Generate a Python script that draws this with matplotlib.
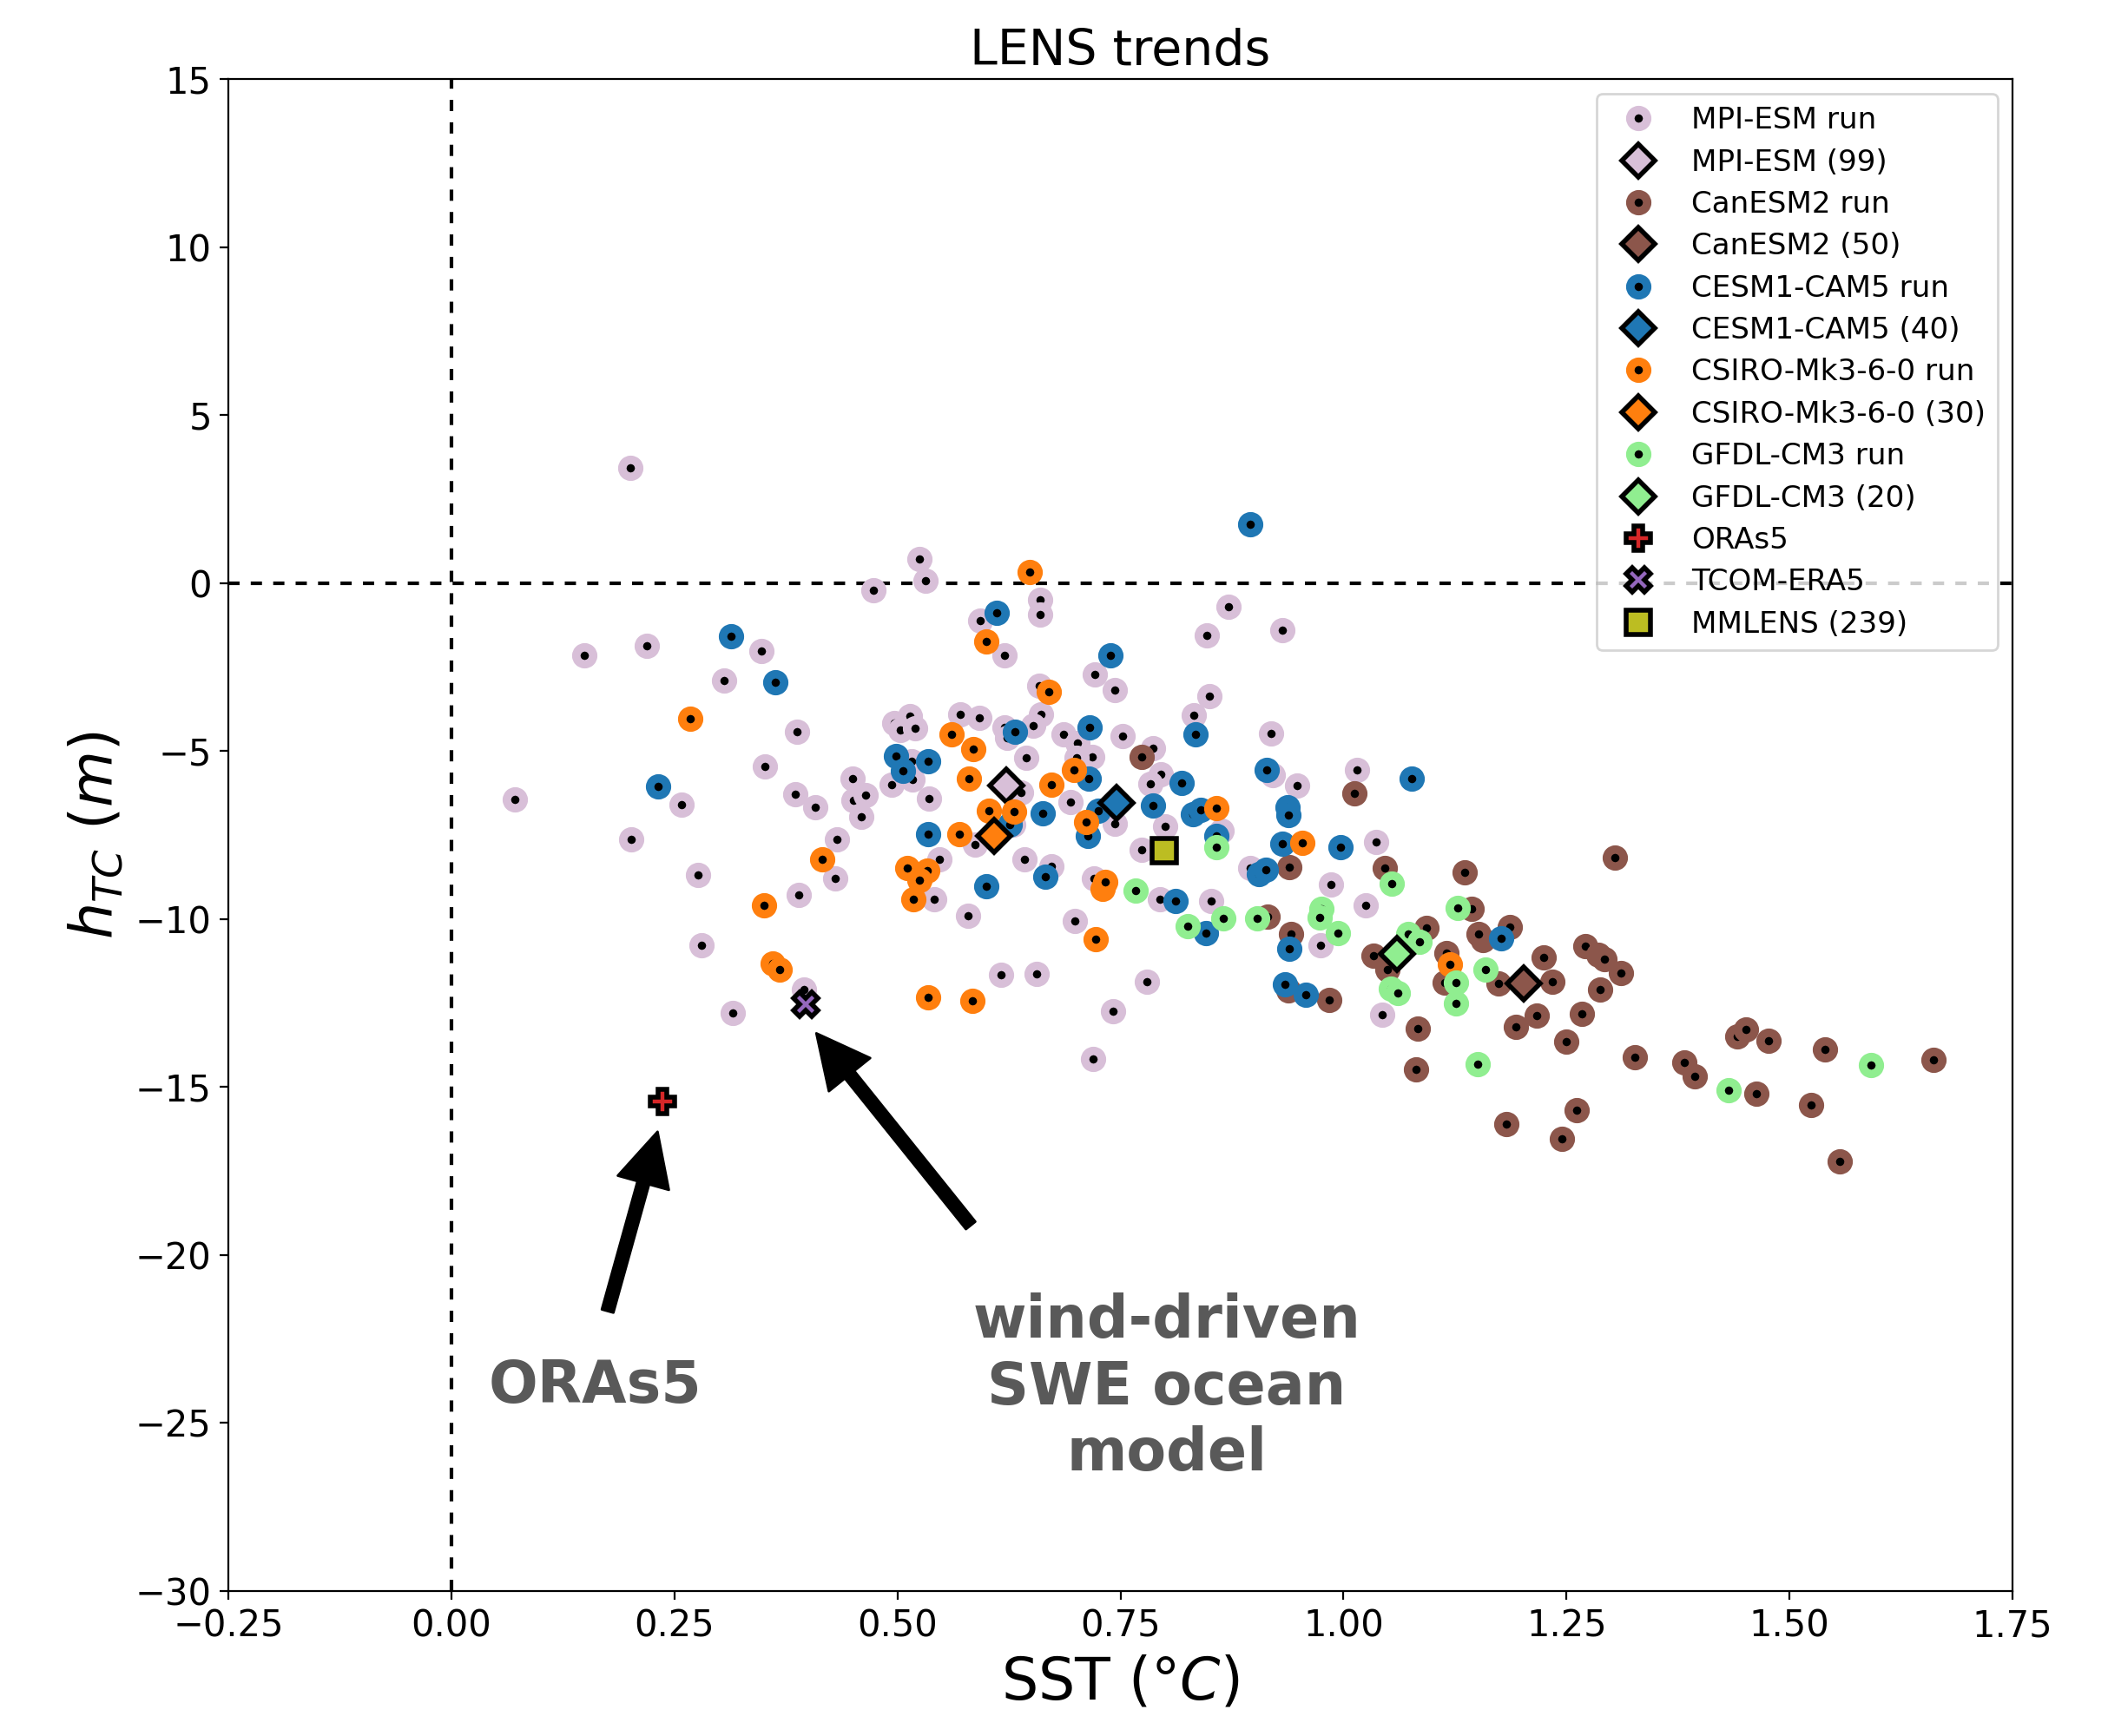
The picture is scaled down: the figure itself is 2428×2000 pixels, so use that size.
import numpy as np
import matplotlib
matplotlib.use("Agg")
import matplotlib.pyplot as plt

# ensemble member trends (SST in degC, h_TC in m)
mpi_sst = [0.200, 0.149, 0.219, 0.347, 0.306, 0.387, 0.351, 0.071, 0.258, 0.385,
           0.408, 0.450, 0.451, 0.459, 0.201, 0.432, 0.430, 0.276, 0.389, 0.280,
           0.395, 0.315, 0.473, 0.525, 0.531, 0.660, 0.660, 0.593, 0.620, 0.871,
           0.847, 0.721, 0.744, 0.659, 0.850, 0.832, 0.661, 0.652, 0.570, 0.592,
           0.514, 0.496, 0.503, 0.520, 0.620, 0.623, 0.516, 0.517, 0.493, 0.464,
           0.535, 0.644, 0.686, 0.702, 0.718, 0.701, 0.752, 0.786, 0.795, 0.783,
           0.638, 0.694, 0.744, 0.800, 0.774, 0.587, 0.547, 0.642, 0.673, 0.541,
           0.579, 0.720, 0.794, 0.852, 0.699, 0.616, 0.656, 0.780, 0.742, 0.719,
           0.931, 0.919, 0.921, 0.948, 1.015, 0.863, 1.037, 0.895, 0.986, 1.025,
           0.974, 1.043, 0.630]
mpi_h = [3.43, -2.15, -1.87, -2.03, -2.90, -4.43, -5.46, -6.45, -6.60, -6.27,
         -6.66, -5.82, -6.47, -6.96, -7.63, -7.63, -8.78, -8.69, -9.28, -10.78,
         -12.09, -12.80, -0.22, 0.72, 0.07, -0.49, -0.94, -1.12, -2.15, -0.69,
         -1.55, -2.71, -3.19, -3.04, -3.36, -3.94, -3.91, -4.24, -3.91, -4.00,
         -3.95, -4.17, -4.38, -4.31, -4.30, -4.60, -5.29, -5.85, -5.99, -6.32,
         -6.41, -5.20, -4.51, -4.75, -5.18, -5.20, -4.55, -4.91, -5.68, -5.98,
         -6.23, -6.51, -7.16, -7.25, -7.94, -7.77, -8.22, -8.22, -8.43, -9.40,
         -9.89, -8.78, -9.40, -9.45, -10.06, -11.65, -11.64, -11.87, -12.74, -14.16,
         -1.39, -4.48, -5.72, -6.02, -5.55, -7.38, -7.70, -8.47, -8.98, -9.58,
         -10.78, -12.85, -7.20]

can_sst = [0.774, 1.012, 0.939, 1.046, 1.136, 0.915, 0.941, 0.938, 0.984, 1.144,
           1.093, 1.034, 1.049, 1.115, 1.113, 1.083, 1.081, 1.156, 1.151, 1.186,
           1.174, 1.224, 1.234, 1.217, 1.193, 1.250, 1.267, 1.271, 1.183, 1.261,
           1.245, 1.304, 1.286, 1.293, 1.311, 1.288, 1.327, 1.382, 1.394, 1.463,
           1.441, 1.451, 1.476, 1.540, 1.524, 1.556, 1.661]
can_h = [-5.17, -6.26, -8.46, -8.47, -8.62, -9.92, -10.45, -12.13, -12.41, -9.70,
         -10.26, -11.10, -11.51, -11.01, -11.89, -13.26, -14.48, -10.63, -10.45, -10.24,
         -11.92, -11.14, -11.87, -12.87, -13.21, -13.64, -12.81, -10.80, -16.09, -15.69,
         -16.53, -8.18, -11.06, -11.19, -11.60, -12.11, -14.10, -14.26, -14.69, -15.19,
         -13.50, -13.28, -13.62, -13.87, -15.53, -17.21, -14.20]

cesm_sst = [0.313, 0.363, 0.232, 0.611, 0.739, 0.834, 0.632, 0.498, 0.506, 0.534,
            0.715, 0.714, 0.819, 0.786, 0.895, 0.914, 1.076, 0.937, 0.663, 0.725,
            0.831, 0.840, 0.713, 0.857, 0.534, 0.626, 0.666, 0.600, 0.812, 0.846,
            0.938, 0.931, 0.997, 0.905, 0.913, 0.939, 0.934, 0.958, 1.177]
cesm_h = [-1.58, -2.96, -6.04, -0.89, -2.14, -4.51, -4.41, -5.14, -5.59, -5.31,
          -4.30, -5.81, -5.95, -6.62, 1.76, -5.56, -5.81, -6.66, -6.84, -6.77,
          -6.88, -6.75, -7.53, -7.53, -7.47, -7.18, -8.73, -9.03, -9.46, -10.43,
          -6.90, -7.76, -7.87, -8.67, -8.52, -10.88, -11.94, -12.26, -10.58]

csiro_sst = [0.268, 0.416, 0.350, 0.360, 0.368, 0.648, 0.600, 0.670, 0.561, 0.585,
             0.698, 0.580, 0.673, 0.857, 0.602, 0.631, 0.711, 0.569, 0.511, 0.533,
             0.525, 0.518, 0.730, 0.733, 0.722, 0.534, 0.584, 0.954, 1.119]
csiro_h = [-4.03, -8.21, -9.59, -11.31, -11.51, 0.34, -1.74, -3.24, -4.51, -4.93,
           -5.57, -5.83, -6.00, -6.70, -6.78, -6.81, -7.10, -7.47, -8.48, -8.56,
           -8.85, -9.41, -9.10, -8.90, -10.61, -12.34, -12.43, -7.72, -11.34]

gfdl_sst = [0.767, 0.857, 0.865, 0.825, 0.903, 1.054, 0.975, 0.973, 0.994, 1.128,
            1.073, 1.085, 1.126, 1.126, 1.053, 1.061, 1.150, 1.159, 1.432, 1.591]
gfdl_h = [-9.14, -7.87, -9.98, -10.21, -9.99, -8.94, -9.70, -9.94, -10.43, -9.66,
          -10.45, -10.68, -11.89, -12.52, -12.07, -12.19, -14.31, -11.49, -15.10, -14.35]

# ensemble means
model_names = ["MPI-ESM", "CanESM2", "CESM1-CAM5", "CSIRO-Mk3-6-0", "GFDL-CM3"]
model_sizes = [99, 50, 40, 30, 20]
model_colors = ["thistle", "tab:brown", "tab:blue", "tab:orange", "lightgreen"]
mean_sst = [0.622, 1.202, 0.746, 0.608, 1.060]
mean_h = [-6.02, -11.92, -6.55, -7.53, -11.03]

oras5 = (0.236, -15.42)
tcom = (0.397, -12.54)
mmlens = (0.799, -7.96)

runs_sst = [mpi_sst, can_sst, cesm_sst, csiro_sst, gfdl_sst]
runs_h = [mpi_h, can_h, cesm_h, csiro_h, gfdl_h]

fig = plt.figure(figsize=(12.14, 10), dpi=200)
ax = fig.add_axes([0.1084, 0.0836, 0.8463, 0.8707])

ax.axhline(0, color="k", ls="--", lw=1.5, dashes=(3.1, 3.1), zorder=1)
ax.axvline(0, color="k", ls="--", lw=1.5, dashes=(3.1, 3.1), zorder=1)

for i in range(len(model_names)):
    c = model_colors[i]
    ax.plot(runs_sst[i], runs_h[i], "o", ms=7, mfc="k", mec=c, mew=3.5,
            ls="none", label=model_names[i] + " run")
    ax.plot(mean_sst[i], mean_h[i], "D", ms=9.5, mfc=c, mec="k", mew=2,
            ls="none", label="%s (%d)" % (model_names[i], model_sizes[i]))

ax.plot(*oras5, "P", ms=10, mfc="tab:red", mec="k", mew=2, ls="none", label="ORAs5")
ax.plot(*tcom, "X", ms=10, mfc="tab:purple", mec="k", mew=2, ls="none", label="TCOM-ERA5")
ax.plot(*mmlens, "s", ms=10, mfc="tab:olive", mec="k", mew=2, ls="none", label="MMLENS (239)")

# annotations
arr = dict(facecolor="black", edgecolor="black", width=5, headwidth=22,
           headlength=22, shrink=0)
ax.annotate("", xy=(0.231, -16.33), xytext=(0.175, -21.67), arrowprops=arr)
ax.annotate("", xy=(0.409, -13.40), xytext=(0.582, -19.12), arrowprops=arr)
ax.text(0.161, -23.9, "ORAs5", ha="center", va="center", fontsize=24,
        fontweight="bold", color="#595959")
ax.text(0.802, -23.95, "wind-driven\nSWE ocean\nmodel", ha="center", va="center",
        fontsize=24, fontweight="bold", color="#595959", multialignment="center")

ax.set_xlim(-0.25, 1.75)
ax.set_ylim(-30, 15)
ax.set_xticks(np.arange(-0.25, 1.76, 0.25))
ax.set_yticks(np.arange(-30, 16, 5))
ax.tick_params(labelsize=15)
ax.set_xlabel("SST (°$C$)", fontsize=24)
ax.set_ylabel("$h_{TC}$ $(m)$", fontsize=24)
ax.set_title("LENS trends", fontsize=20.5)

ax.legend(loc="upper right", fontsize=12.3, labelspacing=0.45, numpoints=1)

fig.savefig("out.png", dpi=200)
